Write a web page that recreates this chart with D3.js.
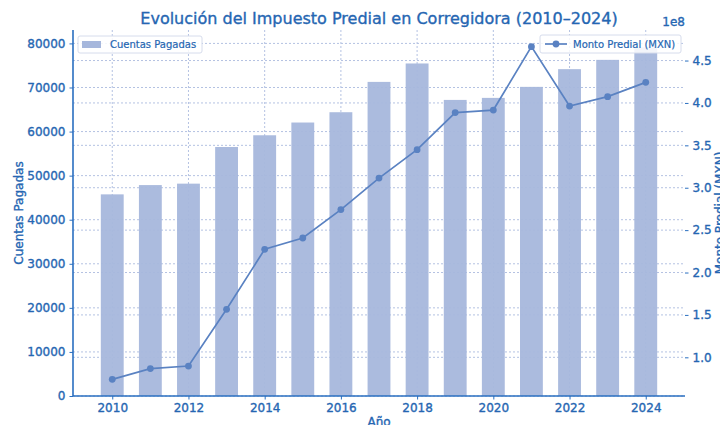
<!DOCTYPE html>
<html>
<head>
<meta charset="utf-8">
<script src="https://cdn.jsdelivr.net/npm/d3@7"></script>
<style>
  body { margin: 0; background: #fff; }
  svg { font-family: "DejaVu Sans", sans-serif; }
  svg text { stroke: #2566b2; stroke-width: 0.35px; }
</style>
</head>
<body>
<div id="chart"></div>
<script>
const years = [2010, 2011, 2012, 2013, 2014, 2015, 2016, 2017, 2018, 2019, 2020, 2021, 2022, 2023, 2024];
const cuentas = [45750, 47860, 48180, 56500, 59160, 62050, 64390, 71270, 75450, 67180, 67640, 70140, 74160, 76270, 79090];
const monto = [0.74e8, 0.867e8, 0.897e8, 1.566e8, 2.274e8, 2.407e8, 2.742e8, 3.114e8, 3.449e8, 3.886e8, 3.916e8, 4.664e8, 3.963e8, 4.074e8, 4.243e8];
const leftTicks = [0, 10000, 20000, 30000, 40000, 50000, 60000, 70000, 80000];
const rightTicks = [1.0e8, 1.5e8, 2.0e8, 2.5e8, 3.0e8, 3.5e8, 4.0e8, 4.5e8];
const xTicks = [2010, 2012, 2014, 2016, 2018, 2020, 2022, 2024];

const W = 720, H = 425;
const margin = {left: 73, right: 35, top: 30, bottom: 29};
const width = W - margin.left - margin.right;
const height = H - margin.top - margin.bottom;

const textColor = '#2566b2';
const axisColor = '#2a6fc0';
const gridColor = '#b4c2e2';
const barColor = '#a6b7dc';
const lineColor = '#5a82c2';

const svg = d3.select('#chart').append('svg')
    .attr('width', W)
    .attr('height', H);

const g = svg.append('g')
    .attr('transform', `translate(${margin.left},${margin.top})`);

// scales (matplotlib-like margins)
const barW = 0.6;
const xPad = (years[years.length - 1] - years[0] + barW) * 0.05;
const xScale = d3.scaleLinear()
    .domain([years[0] - barW / 2 - xPad, years[years.length - 1] + barW / 2 + xPad])
    .range([0, width]);

const yLeft = d3.scaleLinear()
    .domain([0, d3.max(cuentas) * 1.05])
    .range([height, 0]);

const mMin = d3.min(monto), mMax = d3.max(monto);
const mPad = (mMax - mMin) * 0.05;
const yRight = d3.scaleLinear()
    .domain([mMin - mPad, mMax + mPad])
    .range([height, 0]);

// grids
const grid = g.append('g').attr('class', 'grid');
grid.selectAll('.hl').data(leftTicks).enter().append('line')
    .attr('x1', 0).attr('x2', width)
    .attr('y1', d => yLeft(d)).attr('y2', d => yLeft(d))
    .attr('stroke', gridColor).attr('stroke-dasharray', '2,2').attr('stroke-width', 1);
grid.selectAll('.hr').data(rightTicks).enter().append('line')
    .attr('x1', 0).attr('x2', width)
    .attr('y1', d => yRight(d)).attr('y2', d => yRight(d))
    .attr('stroke', gridColor).attr('stroke-dasharray', '2,2').attr('stroke-width', 1);
grid.selectAll('.v').data(xTicks).enter().append('line')
    .attr('x1', d => xScale(d)).attr('x2', d => xScale(d))
    .attr('y1', 0).attr('y2', height)
    .attr('stroke', gridColor).attr('stroke-dasharray', '2,2').attr('stroke-width', 1);

// bars
g.selectAll('.bar')
    .data(years)
    .enter()
    .append('rect')
    .attr('class', 'bar')
    .attr('x', d => xScale(d - barW / 2))
    .attr('width', d => xScale(d + barW / 2) - xScale(d - barW / 2))
    .attr('y', (d, i) => yLeft(cuentas[i]))
    .attr('height', (d, i) => height - yLeft(cuentas[i]))
    .attr('fill', barColor)
    .attr('opacity', 0.95);

// line
const line = d3.line()
    .x((d, i) => xScale(years[i]))
    .y(d => yRight(d));

g.append('path')
    .datum(monto)
    .attr('d', line)
    .attr('fill', 'none')
    .attr('stroke', lineColor)
    .attr('stroke-width', 1.7);

g.selectAll('.dot')
    .data(monto)
    .enter()
    .append('circle')
    .attr('cx', (d, i) => xScale(years[i]))
    .attr('cy', d => yRight(d))
    .attr('r', 3.4)
    .attr('fill', lineColor);

// axes
const xAxis = d3.axisBottom(xScale).tickValues(xTicks).tickFormat(d3.format('d')).tickSize(3.5).tickPadding(4);
const xg = g.append('g')
    .attr('transform', `translate(0,${height})`)
    .call(xAxis);

const yAxisL = d3.axisLeft(yLeft).tickValues(leftTicks).tickFormat(d3.format('d')).tickSize(3.5).tickPadding(4);
const ylg = g.append('g').call(yAxisL);

const yAxisR = d3.axisRight(yRight).tickValues(rightTicks).tickFormat(d => (d / 1e8).toFixed(1)).tickSize(3.5).tickPadding(4);
const yrg = g.append('g').attr('transform', `translate(${width},0)`).call(yAxisR);
yrg.select('.domain').remove();

[xg, ylg, yrg].forEach(a => {
    a.selectAll('.domain').attr('stroke', axisColor).attr('stroke-width', 1.6);
    a.selectAll('.tick line').attr('stroke', axisColor).attr('stroke-width', 1);
    a.selectAll('.tick text')
        .attr('fill', textColor)
        .style('font-size', '12px')
        .style('font-family', '"DejaVu Sans", sans-serif');
});
ylg.select('.domain').attr('d', `M0,${height}V0`);
xg.select('.domain').attr('d', `M0,0H${width}`);

// labels
svg.append('text')
    .attr('x', margin.left + width / 2)
    .attr('y', 24)
    .attr('text-anchor', 'middle')
    .attr('fill', textColor)
    .style('font-size', '16px')
    .text('Evolución del Impuesto Predial en Corregidora (2010–2024)');

svg.append('text')
    .attr('x', margin.left + width / 2)
    .attr('y', H + 1)
    .attr('text-anchor', 'middle')
    .attr('fill', textColor)
    .style('font-size', '12px')
    .text('Año');

svg.append('text')
    .attr('transform', 'rotate(-90)')
    .attr('x', -(margin.top + height / 2))
    .attr('y', 23)
    .attr('text-anchor', 'middle')
    .attr('fill', textColor)
    .style('font-size', '12px')
    .text('Cuentas Pagadas');

svg.append('text')
    .attr('transform', 'rotate(-90)')
    .attr('x', -(margin.top + height / 2))
    .attr('y', 724)
    .attr('text-anchor', 'middle')
    .attr('fill', textColor)
    .style('font-size', '12px')
    .text('Monto Predial (MXN)');

svg.append('text')
    .attr('x', margin.left + width)
    .attr('y', 26)
    .attr('text-anchor', 'end')
    .attr('fill', textColor)
    .style('font-size', '12px')
    .text('1e8');

// legends
const legL = g.append('g').attr('transform', 'translate(5,6)');
legL.append('rect')
    .attr('width', 124).attr('height', 17).attr('rx', 2)
    .attr('fill', '#fff').attr('fill-opacity', 0.85)
    .attr('stroke', '#d6dcec');
legL.append('rect')
    .attr('x', 4).attr('y', 5).attr('width', 19).attr('height', 7)
    .attr('fill', barColor);
legL.append('text')
    .attr('x', 32).attr('y', 8.5).attr('dy', '0.35em')
    .attr('fill', textColor)
    .style('font-size', '10px')
    .style('stroke-width', '0.2px')
    .text('Cuentas Pagadas');

const legR = g.append('g').attr('transform', `translate(${width - 145},5)`);
legR.append('rect')
    .attr('width', 141).attr('height', 18).attr('rx', 2)
    .attr('fill', '#fff').attr('fill-opacity', 0.85)
    .attr('stroke', '#d6dcec');
legR.append('line')
    .attr('x1', 5).attr('x2', 27).attr('y1', 9).attr('y2', 9)
    .attr('stroke', lineColor).attr('stroke-width', 1.7);
legR.append('circle')
    .attr('cx', 16).attr('cy', 9).attr('r', 3.4)
    .attr('fill', lineColor);
legR.append('text')
    .attr('x', 33).attr('y', 9).attr('dy', '0.35em')
    .attr('fill', textColor)
    .style('font-size', '10px')
    .style('stroke-width', '0.2px')
    .text('Monto Predial (MXN)');
</script>
</body>
</html>
